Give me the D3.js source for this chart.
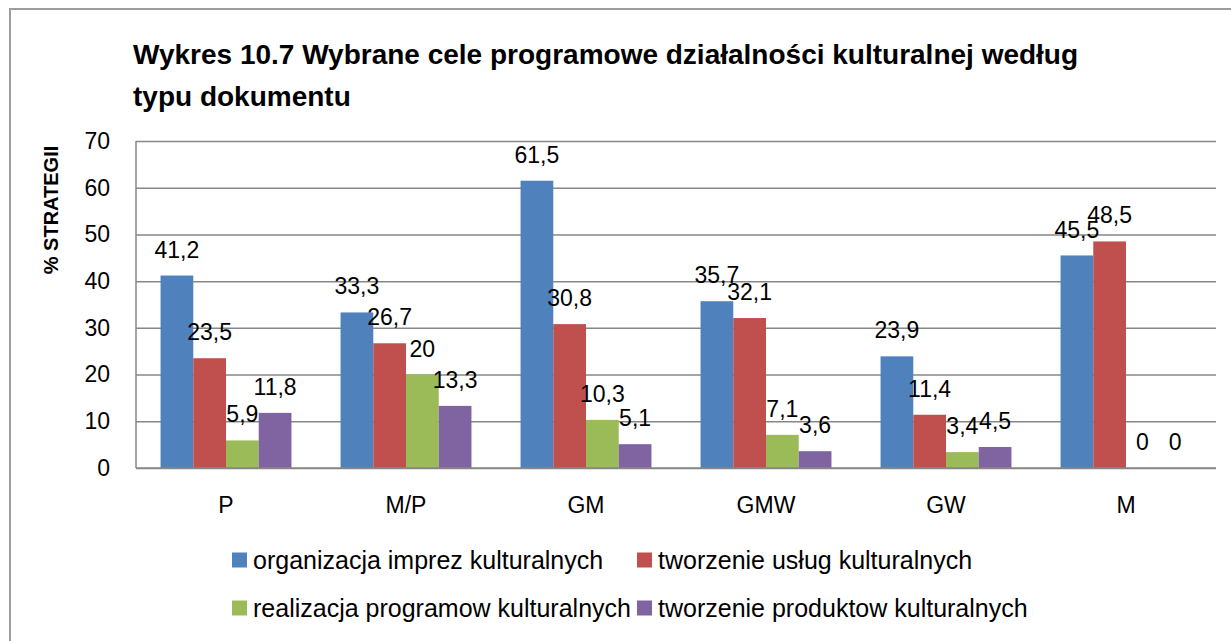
<!DOCTYPE html>
<html>
<head>
<meta charset="utf-8">
<script src="https://cdn.jsdelivr.net/npm/d3@7"></script>
<style>
    body { margin: 0; background: #fff; }
    #chart-area { width: 1231px; height: 641px; }
    text { font-family: "Liberation Sans", Arial, sans-serif; fill: #000; }
</style>
</head>
<body>
<div id="chart-area"></div>
<script>
// data
const categories = ["P", "M/P", "GM", "GMW", "GW", "M"];
const seriesNames = [
    "organizacja imprez kulturalnych",
    "tworzenie usług kulturalnych",
    "realizacja programow kulturalnych",
    "tworzenie produktow kulturalnych"
];
const seriesColors = ["#4F81BD", "#C0504D", "#9BBB59", "#8064A2"];
const imprezValues = [41.2, 33.3, 61.5, 35.7, 23.9, 45.5];
const uslugValues = [23.5, 26.7, 30.8, 32.1, 11.4, 48.5];
const programowValues = [5.9, 20, 10.3, 7.1, 3.4, 0];
const produktowValues = [11.8, 13.3, 5.1, 3.6, 4.5, 0];
const yTicks = [0, 10, 20, 30, 40, 50, 60, 70];

const titleLines = [
    "Wykres 10.7 Wybrane cele programowe działalności kulturalnej według",
    "typu dokumentu"
];

class BarVis {
    constructor(parentElement) {
        this.parentElement = parentElement;
        this.series = [imprezValues, uslugValues, programowValues, produktowValues];
        this.initVis();
    }

    initVis() {
        const vis = this;

        vis.width = 1231;
        vis.height = 641;
        vis.plot = { left: 136, right: 1216, top: 141, bottom: 468 };

        vis.svg = d3.select("#" + vis.parentElement)
            .append("svg")
            .attr("width", vis.width)
            .attr("height", vis.height);

        // outer frame (only top and left edges visible)
        vis.svg.append("path")
            .attr("d", `M10,${vis.height + 5} V9 H${vis.width + 5}`)
            .attr("fill", "none")
            .attr("stroke", "#9d9d9d")
            .attr("stroke-width", 2);

        vis.svg.append("g")
            .selectAll("text")
            .data(titleLines)
            .enter()
            .append("text")
            .attr("x", 133)
            .attr("y", (d, i) => 64 + i * 42)
            .style("font-size", "28px")
            .style("font-weight", "bold")
            .text(d => d);

        vis.x0 = d3.scaleBand()
            .domain(categories)
            .range([vis.plot.left, vis.plot.right]);

        vis.x1 = d3.scaleBand()
            .domain(d3.range(seriesNames.length))
            .range([0, vis.x0.bandwidth()])
            .paddingInner(0)
            .paddingOuter(0.75);

        vis.y = d3.scaleLinear()
            .domain([0, 70])
            .range([vis.plot.bottom, vis.plot.top]);

        // gridlines + y labels
        const yAxis = d3.axisLeft(vis.y)
            .tickValues(yTicks)
            .tickSize(-(vis.plot.right - vis.plot.left))
            .tickPadding(26)
            .tickFormat(d => d);

        vis.yAxisGroup = vis.svg.append("g")
            .attr("class", "y-axis")
            .attr("transform", `translate(${vis.plot.left},0)`)
            .call(yAxis);

        vis.yAxisGroup.select(".domain").remove();
        vis.yAxisGroup.selectAll("line")
            .attr("stroke", "#878787")
            .attr("stroke-width", 1.5);
        vis.yAxisGroup.selectAll("text")
            .style("font-size", "23px")
            .attr("font-family", null);

        vis.svg.append("line")
            .attr("x1", vis.plot.left)
            .attr("x2", vis.plot.left)
            .attr("y1", vis.plot.top)
            .attr("y2", vis.plot.bottom)
            .attr("stroke", "#878787")
            .attr("stroke-width", 1.5);

        vis.svg.append("text")
            .attr("transform", "translate(58,210) rotate(-90)")
            .attr("text-anchor", "middle")
            .style("font-size", "20px")
            .style("font-weight", "bold")
            .text("% STRATEGII");

        vis.updateVis();
    }

    updateVis() {
        const vis = this;

        const groups = vis.svg.append("g")
            .attr("class", "bars")
            .selectAll("g")
            .data(categories)
            .enter()
            .append("g")
            .attr("transform", d => `translate(${vis.x0(d)},0)`);

        const cells = groups.selectAll(".cell")
            .data((d, ci) => vis.series.map((s, si) => ({ si: si, value: s[ci] })))
            .enter();

        cells.append("rect")
            .attr("x", d => vis.x1(d.si))
            .attr("y", d => vis.y(d.value))
            .attr("width", vis.x1.bandwidth())
            .attr("height", d => vis.y(0) - vis.y(d.value))
            .attr("fill", d => seriesColors[d.si]);

        // value labels sit above the bar tops (they overlap at M, like the original)
        cells.append("text")
            .attr("x", d => vis.x1(d.si) + vis.x1.bandwidth() / 2)
            .attr("y", d => vis.y(d.value) - 26)
            .attr("dy", "0.35em")
            .attr("text-anchor", "middle")
            .style("font-size", "23px")
            .text(d => String(d.value).replace(".", ","));

        // category axis line + labels
        vis.svg.append("line")
            .attr("x1", vis.plot.left)
            .attr("x2", vis.plot.right)
            .attr("y1", vis.plot.bottom)
            .attr("y2", vis.plot.bottom)
            .attr("stroke", "#878787")
            .attr("stroke-width", 1.5);

        vis.svg.append("g")
            .selectAll("text")
            .data(categories)
            .enter()
            .append("text")
            .attr("x", d => vis.x0(d) + vis.x0.bandwidth() / 2)
            .attr("y", 505)
            .attr("dy", "0.35em")
            .attr("text-anchor", "middle")
            .style("font-size", "23px")
            .text(d => d);

        // legend, two columns
        const legend = vis.svg.append("g")
            .attr("class", "legend")
            .selectAll("g")
            .data(seriesNames)
            .enter()
            .append("g")
            .attr("transform", (d, i) => `translate(${232 + (i % 2) * 405},${560 + Math.floor(i / 2) * 48})`);

        legend.append("rect")
            .attr("x", 0)
            .attr("y", -7.5)
            .attr("width", 15)
            .attr("height", 15)
            .attr("fill", (d, i) => seriesColors[i]);

        legend.append("text")
            .attr("x", 21)
            .attr("dy", "0.35em")
            .style("font-size", "25px")
            .text(d => d);
    }
}

new BarVis("chart-area");
</script>
</body>
</html>
